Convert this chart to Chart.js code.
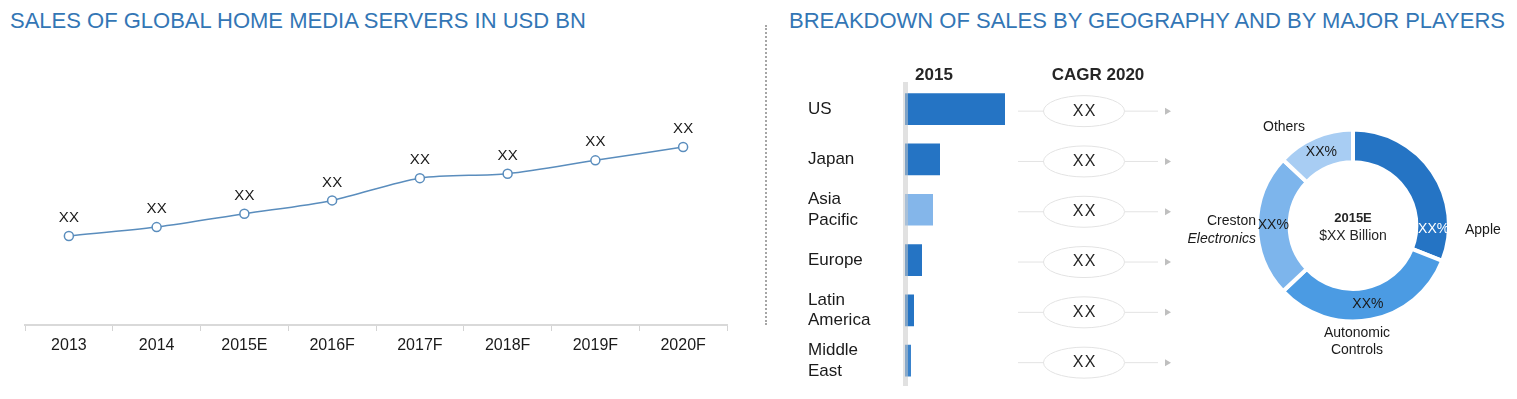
<!DOCTYPE html>
<html lang="en">
<head>
<meta charset="UTF-8">
<title>Home Media Servers</title>
<style>
  body { margin: 0; width: 1517px; height: 399px; background: #fff; font-family: "Liberation Sans", Arial, sans-serif; overflow: hidden; }
  .box { position: absolute; }
  .title { position: absolute; font-size: 22px; color: #3376b5; white-space: nowrap; }
  .sep { position: absolute; left: 765px; top: 25px; height: 300px; border-left: 2px dotted #a6a6a6; }
</style>
<script src="https://cdn.jsdelivr.net/npm/chart.js@4.4.1/dist/chart.umd.min.js"></script>
</head>
<body>
<div class="title" style="left:10px; top:8px;">SALES OF GLOBAL HOME MEDIA SERVERS IN USD BN</div>
<div class="title" style="left:789px; top:8px;">BREAKDOWN OF SALES BY GEOGRAPHY AND BY MAJOR PLAYERS</div>
<div class="sep"></div>

<div class="box" style="left:0; top:0; width:760px; height:399px;"><canvas id="lineChart"></canvas></div>
<div class="box" style="left:780px; top:0; width:420px; height:399px;"><canvas id="barChart"></canvas></div>
<div class="box" style="left:1180px; top:100px; width:337px; height:270px;"><canvas id="donutChart"></canvas></div>

<script>
const years = ['2013', '2014', '2015E', '2016F', '2017F', '2018F', '2019F', '2020F'];
const sales = [2.0, 2.2, 2.5, 2.8, 3.3, 3.4, 3.7, 4.0];
const salesLabels = ['XX', 'XX', 'XX', 'XX', 'XX', 'XX', 'XX', 'XX'];

// geography breakdown 2015
const regions = [['US'], ['Japan'], ['Asia', 'Pacific'], ['Europe'], ['Latin', 'America'], ['Middle', 'East']];
const regionSales = [100, 35, 28, 17, 9, 6];
const regionColors = ['#2574c4', '#2574c4', '#84b6ea', '#2574c4', '#2574c4', '#3a83cc'];
const cagrLabels = ['XX', 'XX', 'XX', 'XX', 'XX', 'XX'];

// major players
const players = ['Apple', 'Autonomic Controls', 'Creston Electronics', 'Others'];
const shares = [31, 32, 24, 13];
const shareLabels = ['XX%', 'XX%', 'XX%', 'XX%'];
const playerColors = ['#2574c4', '#4b9be3', '#7db5ec', '#a8cdf3'];

const FONT = '"Liberation Sans", Arial, sans-serif';
Chart.defaults.font.family = FONT;
Chart.defaults.animation = false;

const blue = '#5a8dbd';

// "XX" above each point
const pointLabels = {
  id: 'pointLabels',
  afterDatasetsDraw(chart) {
    const ctx = chart.ctx;
    const meta = chart.getDatasetMeta(0);
    ctx.save();
    ctx.font = '15px ' + FONT;
    ctx.fillStyle = '#1a1a1a';
    ctx.textAlign = 'center';
    ctx.textBaseline = 'middle';
    meta.data.forEach((pt, i) => {
      ctx.fillText(salesLabels[i], pt.x, pt.y - 18);
    });
    ctx.restore();
  }
};

new Chart(document.getElementById('lineChart'), {
  type: 'line',
  data: {
    labels: years,
    datasets: [{
      data: sales,
      borderColor: blue,
      borderWidth: 1.5,
      tension: 0.3,
      pointRadius: 4.5,
      pointBackgroundColor: '#fff',
      pointBorderColor: blue,
      pointBorderWidth: 1.5
    }]
  },
  options: {
    responsive: true,
    maintainAspectRatio: false,
    layout: { padding: { left: 25, right: 33, top: 58, bottom: 0 } },
    plugins: { legend: { display: false }, tooltip: { enabled: false } },
    scales: {
      x: {
        offset: true,
        grid: { offset: true, drawOnChartArea: false, color: '#d4d4d4', tickLength: 6 },
        border: { color: '#d9d9d9', width: 2 },
        ticks: { color: '#1a1a1a', font: { size: 16 }, padding: 5 },
        afterFit(scale) { scale.height = 74; }
      },
      y: { display: false, min: 0, max: 6 }
    }
  },
  plugins: [pointLabels]
});

// headers, CAGR ellipses, connectors and arrows next to the bars
const cagrColumn = {
  id: 'cagrColumn',
  afterDatasetsDraw(chart) {
    const ctx = chart.ctx;
    const y = chart.scales.y;
    const left = chart.chartArea.left;
    ctx.save();
    ctx.font = 'bold 17px ' + FONT;
    ctx.fillStyle = '#262626';
    ctx.textAlign = 'center';
    ctx.textBaseline = 'middle';
    ctx.fillText('2015', left + 29, 75);
    ctx.fillText('CAGR 2020', left + 193, 75);

    cagrLabels.forEach((lab, i) => {
      const cy = y.getPixelForValue(i) + 2;
      const cx = left + 179;
      ctx.strokeStyle = '#e3e3e3';
      ctx.lineWidth = 1;
      ctx.beginPath();
      ctx.moveTo(left + 113, cy); ctx.lineTo(cx - 40, cy);
      ctx.moveTo(cx + 41, cy); ctx.lineTo(cx + 74, cy);
      ctx.stroke();
      ctx.beginPath();
      ctx.ellipse(cx, cy, 40.5, 15.5, 0, 0, Math.PI * 2);
      ctx.stroke();
      ctx.fillStyle = '#bfbfbf';
      ctx.beginPath();
      ctx.moveTo(cx + 81, cy - 3.5); ctx.lineTo(cx + 87, cy); ctx.lineTo(cx + 81, cy + 3.5);
      ctx.closePath();
      ctx.fill();
      ctx.fillStyle = '#262626';
      ctx.font = '16px ' + FONT;
      ctx.fillText(lab.split('').join(String.fromCharCode(8202)), cx, cy);
    });
    ctx.restore();
  }
};

new Chart(document.getElementById('barChart'), {
  type: 'bar',
  data: {
    labels: regions,
    datasets: [{
      data: regionSales,
      backgroundColor: regionColors,
      categoryPercentage: 1,
      barPercentage: 0.63
    }]
  },
  options: {
    indexAxis: 'y',
    responsive: true,
    maintainAspectRatio: false,
    layout: { padding: { left: 28, right: 185, top: 84, bottom: 11 } },
    plugins: { legend: { display: false }, tooltip: { enabled: false } },
    scales: {
      x: { display: false, min: 0, max: 110 },
      y: {
        grid: { display: false },
        border: { display: true, color: 'rgba(200,200,200,0.55)', width: 5, dash: [1, 2], z: 1 },
        ticks: { crossAlign: 'far', color: '#1a1a1a', font: { size: 17, lineHeight: 1.2 } },
        afterFit(scale) { scale.width = 97; }
      }
    }
  },
  plugins: [cagrColumn]
});

// percent labels, outer names and centre text for the doughnut
const donutText = {
  id: 'donutText',
  afterDatasetsDraw(chart) {
    const ctx = chart.ctx;
    const arcs = chart.getDatasetMeta(0).data;
    const cx = arcs[0].x, cy = arcs[0].y;
    const R = arcs[0].outerRadius, r = arcs[0].innerRadius;
    const mid = (R + r) / 2;
    ctx.save();
    ctx.textBaseline = 'middle';
    ctx.textAlign = 'center';
    ctx.font = '14px ' + FONT;
    arcs.forEach((a, i) => {
      let x, y;
      if (i === 0) { x = cx + mid + 1; y = cy + 4; }
      else { const p = a.tooltipPosition(); x = p.x; y = p.y; }
      ctx.fillStyle = i === 0 ? '#ffffff' : '#1a1a1a';
      ctx.fillText(shareLabels[i], x, y);
    });
    ctx.fillStyle = '#1a1a1a';
    ctx.textAlign = 'left';
    ctx.fillText('Apple', cx + R + 16, cy + 5);
    ctx.textAlign = 'center';
    ctx.fillText('Autonomic', cx + 4, cy + R + 12);
    ctx.fillText('Controls', cx + 4, cy + R + 29);
    ctx.fillText('Others', cx - 69, cy - R - 2);
    ctx.textAlign = 'right';
    ctx.fillText('Creston', cx - R - 1, cy - 4);
    ctx.font = 'italic 14px ' + FONT;
    ctx.fillText('Electronics', cx - R - 1, cy + 14);
    ctx.textAlign = 'center';
    ctx.font = 'bold 13px ' + FONT;
    ctx.fillStyle = '#262626';
    ctx.fillText('2015E', cx, cy - 7);
    ctx.font = '14px ' + FONT;
    ctx.fillText('$XX Billion', cx, cy + 11);
    ctx.restore();
  }
};

new Chart(document.getElementById('donutChart'), {
  type: 'doughnut',
  data: {
    labels: players,
    datasets: [{
      data: shares,
      backgroundColor: playerColors,
      borderColor: '#ffffff',
      borderWidth: 4
    }]
  },
  options: {
    responsive: true,
    maintainAspectRatio: false,
    cutout: '66%',
    layout: { padding: { left: 75, right: 66, top: 27.5, bottom: 46.5 } },
    plugins: { legend: { display: false }, tooltip: { enabled: false } }
  },
  plugins: [donutText]
});
</script>
</body>
</html>
